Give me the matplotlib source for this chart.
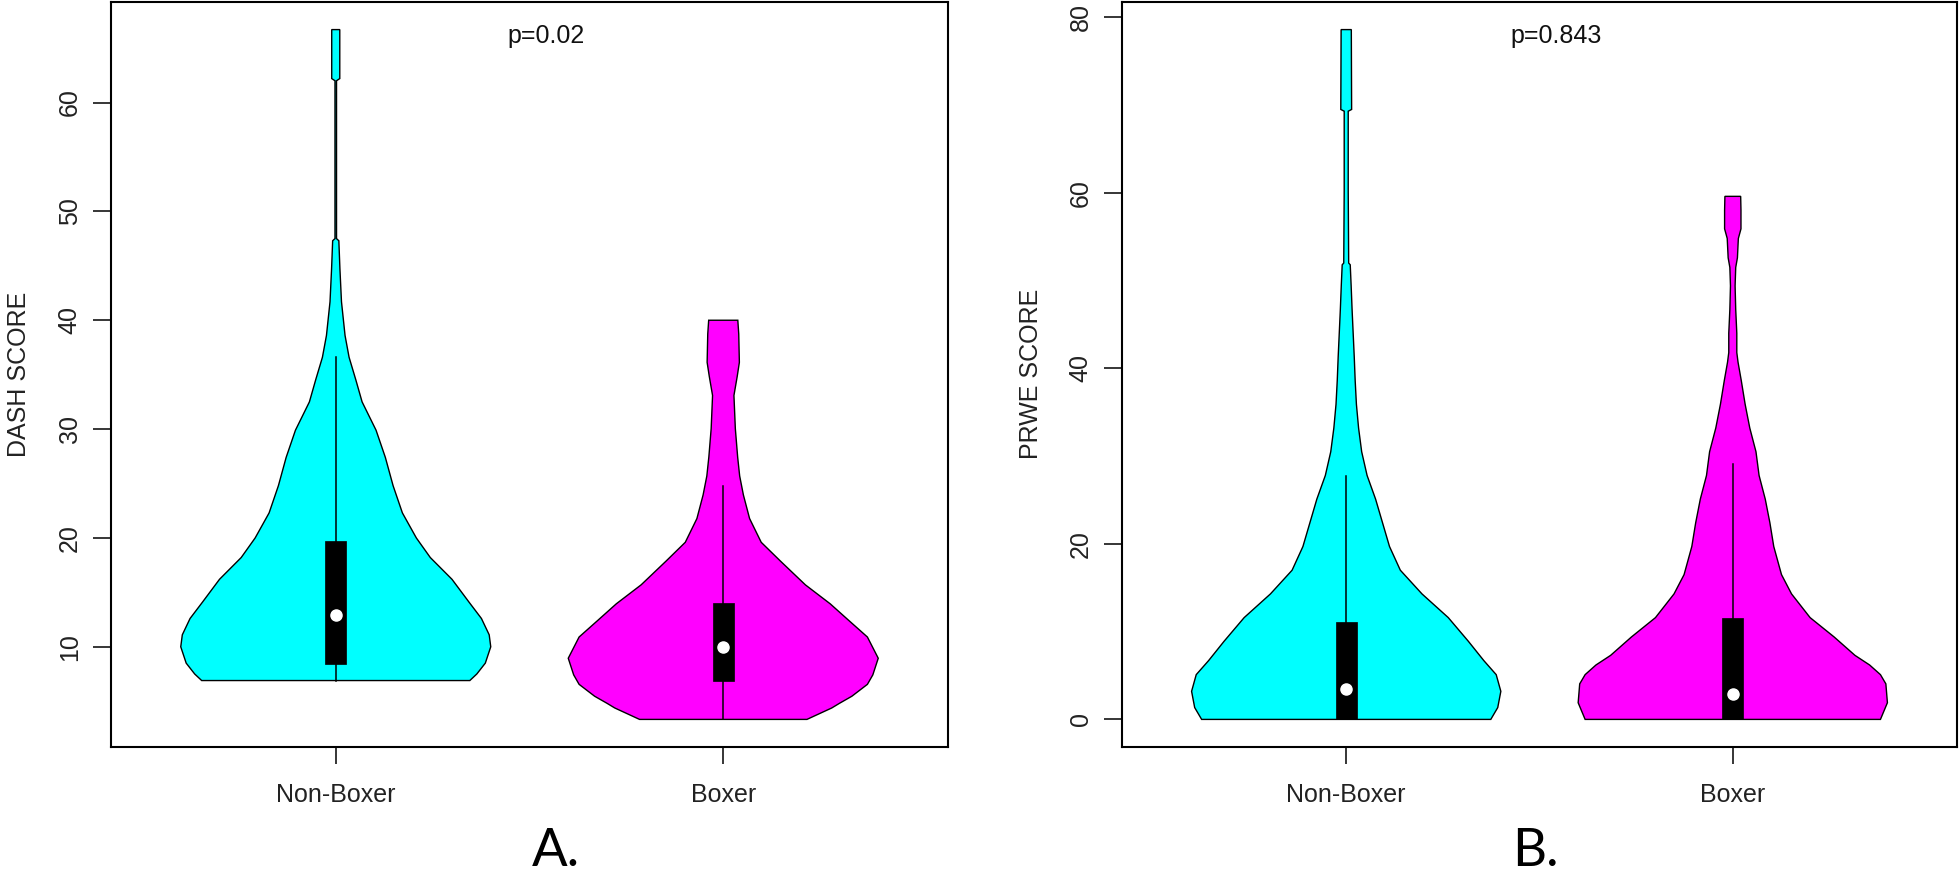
import numpy as np
import matplotlib
matplotlib.use("Agg")
import matplotlib.pyplot as plt
from matplotlib.patches import Rectangle

plt.rcParams['font.family'] = ['Liberation Sans', 'DejaVu Sans']

groups = ["Non-Boxer", "Boxer"]
colors = ["#00FFFF", "#FF00FF"]

# ---- Panel A: DASH score (violin outline: value, relative half-width) ----
dash_nb_y = [6.9, 7.5, 8.5, 10.0, 11.1, 12.6, 14.1, 16.2, 18.2, 20.0, 22.3, 24.8, 27.4,
             29.9, 32.5, 34.5, 36.6, 38.6, 41.7, 44.7, 47.3, 47.5, 62.0, 62.2, 66.7]
dash_nb_w = [0.865, 0.91, 0.965, 1.0, 0.99, 0.94, 0.86, 0.75, 0.61, 0.52, 0.43, 0.37, 0.32,
             0.26, 0.17, 0.13, 0.086, 0.06, 0.037, 0.027, 0.02, 0.005, 0.005, 0.026, 0.026]
dash_bx_y = [3.33, 4.38, 4.81, 5.46, 6.55, 7.42, 8.95, 10.9, 12.42, 13.95, 15.69, 17.86,
             19.6, 21.78, 23.95, 25.69, 27.43, 30.04, 33.09, 34.83, 36.13, 38.74, 40.0]
dash_bx_w = [0.54, 0.70, 0.75, 0.83, 0.93, 0.965, 1.0, 0.93, 0.81, 0.69, 0.53, 0.37,
             0.245, 0.17, 0.13, 0.106, 0.093, 0.078, 0.069, 0.09, 0.104, 0.10, 0.094]
dash_wlo = [6.9, 3.33]
dash_q1 = [8.42, 6.9]
dash_median = [12.96, 10.0]
dash_q3 = [19.74, 14.03]
dash_whi = [36.6, 24.8]
dash_yticks = [10, 20, 30, 40, 50, 60]
dash_label = "DASH SCORE"
dash_p = "p=0.02"

# ---- Panel B: PRWE score ----
prwe_nb_y = [0.0, 1.35, 3.2, 5.1, 6.7, 8.9, 11.6, 14.3, 17.0, 19.7, 22.4, 25.1, 27.8, 30.5,
             33.2, 35.9, 38.6, 41.3, 44.0, 46.7, 49.4, 51.8, 52.0, 54.8, 60.2, 69.3, 69.5, 78.6]
prwe_nb_w = [0.935, 0.98, 1.0, 0.97, 0.89, 0.79, 0.66, 0.49, 0.35, 0.28, 0.235, 0.19, 0.135,
             0.10, 0.08, 0.066, 0.058, 0.052, 0.045, 0.038, 0.032, 0.026, 0.016, 0.015, 0.013,
             0.013, 0.035, 0.033]
prwe_bx_y = [0.0, 1.9, 4.05, 5.1, 6.2, 7.3, 9.4, 11.6, 14.3, 16.5, 19.7, 22.4, 25.1, 27.8,
             30.5, 33.2, 35.9, 38.6, 40.7, 41.8, 44.0, 46.7, 49.4, 51.5, 52.6, 54.8, 55.9,
             58.0, 59.6]
prwe_bx_w = [0.955, 1.0, 0.99, 0.955, 0.885, 0.79, 0.655, 0.50, 0.38, 0.315, 0.265, 0.24,
             0.21, 0.17, 0.15, 0.11, 0.08, 0.055, 0.034, 0.026, 0.026, 0.019, 0.015, 0.019,
             0.03, 0.036, 0.053, 0.053, 0.051]
prwe_wlo = [0.0, 0.0]
prwe_q1 = [0.0, 0.0]
prwe_median = [3.5, 2.86]
prwe_q3 = [11.06, 11.5]
prwe_whi = [27.7, 29.1]
prwe_yticks = [0, 20, 40, 60, 80]
prwe_label = "PRWE SCORE"
prwe_p = "p=0.843"

panel_letters = ["A.", "B."]

W, H = 1960, 873
fig = plt.figure(figsize=(W / 100, H / 100), dpi=100)


def draw_panel(rect, profiles, wlo, q1, med, q3, whi, yticks, ylabel, ptext, label_x):
    ax = fig.add_axes(rect)
    allv = [v for (yv, _) in profiles for v in yv]
    lo, hi = min(allv), max(allv)
    ext = 0.04 * (hi - lo)
    for i, (yv, wv) in enumerate(profiles):
        at = i + 1
        yv = np.asarray(yv)
        hw = 0.4 * np.asarray(wv)
        xs = np.concatenate([at - hw, (at + hw)[::-1]])
        ys = np.concatenate([yv, yv[::-1]])
        ax.fill(xs, ys, facecolor=colors[i], edgecolor='black', lw=1.0, zorder=2)
        ax.plot([at, at], [wlo[i], whi[i]], color='black', lw=1.1, zorder=3)
        ax.add_patch(Rectangle((at - 0.027, q1[i]), 0.054, q3[i] - q1[i],
                               facecolor='black', edgecolor='black', lw=0.5, zorder=4))
        ax.plot([at], [med[i]], 'o', color='white', ms=8, mec='white', zorder=5)
    ax.set_xlim(0.42, 2.58)
    ax.set_ylim(lo - ext, hi + ext)
    ax.set_xticks([1, 2])
    ax.set_xticklabels(groups)
    ax.set_yticks(yticks)
    ax.set_yticklabels([str(t) for t in yticks], rotation=90, va='center')
    ax.tick_params(axis='x', length=12, width=1.1, pad=14, labelsize=18, colors='black',
                   labelcolor='#222222')
    ax.tick_params(axis='y', length=13, width=1.1, pad=8, labelsize=18, colors='black',
                   labelcolor='#222222')
    for s in ax.spines.values():
        s.set_linewidth(1.5)
    ax.text(0.52, 0.954, ptext, transform=ax.transAxes, ha='center', va='center',
            fontsize=18, color='#111111')
    fig.text(label_x / W, 1 - 374 / H, ylabel, rotation=90, ha='center', va='center',
             fontsize=18, color='#222222')
    return ax


bottom = 1 - 747 / H
height = 745 / H
axA = draw_panel([111 / W, bottom, 837 / W, height],
                 [(dash_nb_y, dash_nb_w), (dash_bx_y, dash_bx_w)],
                 dash_wlo, dash_q1, dash_median, dash_q3, dash_whi,
                 dash_yticks, dash_label, dash_p, 19)
axB = draw_panel([1122 / W, bottom, 835 / W, height],
                 [(prwe_nb_y, prwe_nb_w), (prwe_bx_y, prwe_bx_w)],
                 prwe_wlo, prwe_q1, prwe_median, prwe_q3, prwe_whi,
                 prwe_yticks, prwe_label, prwe_p, 1031)

fig.text(556 / W, 1 - 866 / H, panel_letters[0], ha='center', va='baseline',
         fontsize=38, family=['Lato', 'DejaVu Sans'])
fig.text(1535 / W, 1 - 866 / H, panel_letters[1], ha='center', va='baseline',
         fontsize=38, family=['Lato', 'DejaVu Sans'])

fig.savefig("out.png", dpi=100)
